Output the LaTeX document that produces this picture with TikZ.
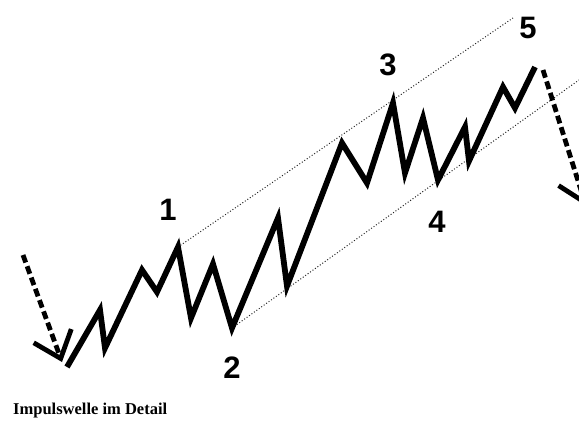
\documentclass[tikz,border=0pt]{standalone}
\usepackage{fontspec}
\setmainfont{Liberation Serif}
\newfontfamily\wavefont{Liberation Sans}
\usetikzlibrary{arrows.meta}
\tikzset{
  waveline/.style  = {line width=5.8pt, line join=miter, miter limit=20},
  channel/.style   = {dotted, line width=1pt, black!85},
  trendar/.style   = {line width=4.8pt, dash pattern=on 8pt off 4pt,
                      -{Straight Barb[length=24pt,width=40pt,line width=4.8pt]}},
  wavelabel/.style = {font=\wavefont\bfseries\fontsize{31}{31}\selectfont, inner sep=0pt},
  caption/.style   = {font=\bfseries\fontsize{16.5}{18}\selectfont, anchor=base west, inner sep=0pt}
}
\begin{document}
\begin{tikzpicture}[x=1pt,y=-1pt]
  \useasboundingbox (0,0) rectangle (579,425);
  % wave points
  \coordinate (w0) at (67,367);
  \coordinate (p1) at (178,247);
  \coordinate (p2) at (232,328);
  \coordinate (p3) at (393,103);
  \coordinate (p4) at (438,180);
  \coordinate (p5) at (535,67);
  % channel
  \coordinate (u1) at (513,18);
  \coordinate (l1) at (579,80);
  \draw[channel] (p1) -- (u1);
  \draw[channel] (p2) -- (l1);
  % impulse wave
  \draw[waveline] (w0) -- (100,310) -- (105,348) -- (142,270) -- (157,292)
        -- (p1) -- (191,318) -- (213,264) -- (p2) -- (278,218) -- (287,286)
        -- (342,143) -- (367,183) -- (p3) -- (405,173) -- (423,118) -- (p4)
        -- (465,127) -- (469,161) -- (503,87) -- (515,108) -- (p5);
  % trend arrows
  \coordinate (a0) at (23,255);
  \coordinate (a1) at (62,362);
  \coordinate (b0) at (543,70);
  \coordinate (b1) at (586,206);
  \draw[trendar] (a0) -- (a1);
  \draw[trendar] (b0) -- (b1);
  % labels
  \node[wavelabel] (n1) at (168,210) {1};
  \node[wavelabel] (n2) at (232,368) {2};
  \node[wavelabel] (n3) at (388,65)  {3};
  \node[wavelabel] (n4) at (437,222) {4};
  \node[wavelabel] (n5) at (528,28)  {5};
  \node[caption] (cap) at (13,414) {Impulswelle im Detail};
\end{tikzpicture}
\end{document}
